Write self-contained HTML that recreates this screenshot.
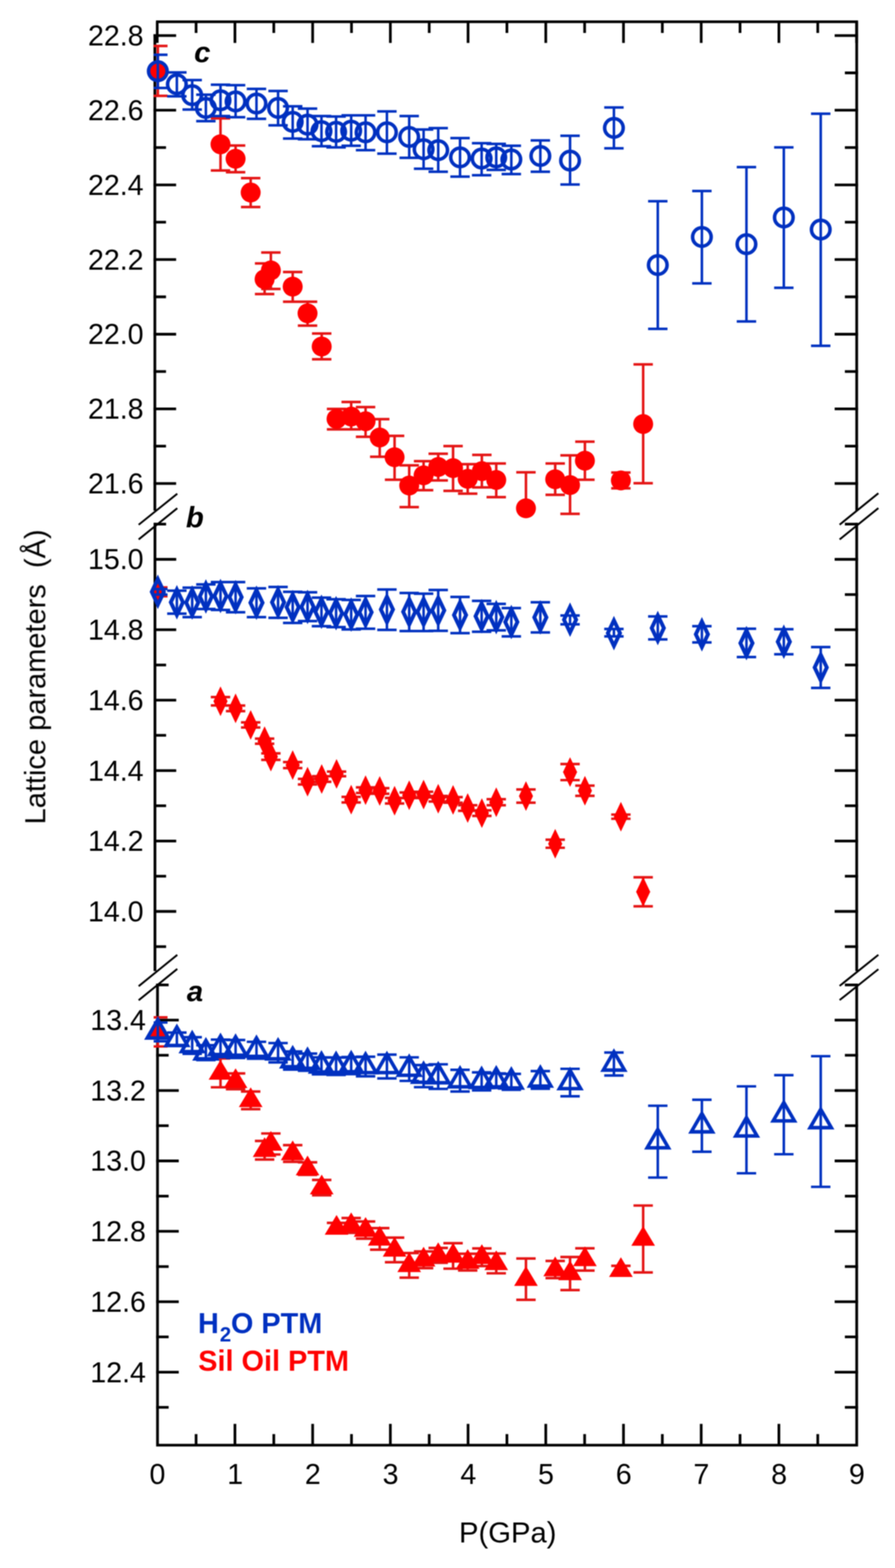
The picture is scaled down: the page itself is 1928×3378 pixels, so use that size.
<!DOCTYPE html>
<html lang="en">
<head>
<meta charset="utf-8">
<title>Lattice parameters vs pressure</title>
<style>
html,body{margin:0;padding:0;background:#fff;}
body{width:1928px;height:3378px;overflow:hidden;}
svg{display:block;}
</style>
</head>
<body>
<svg width="1928" height="3378" viewBox="0 0 1928 3378" role="img" aria-label="Lattice parameters a, b, c versus pressure">
<rect width="1928" height="3378" fill="#fff"/>
<defs><clipPath id="pc"><rect x="331" y="40" width="1520" height="3076"/></clipPath><filter id="soft" x="0" y="0" width="1928" height="3378" filterUnits="userSpaceOnUse" color-interpolation-filters="sRGB"><feGaussianBlur stdDeviation="0.9"/></filter></defs>
<g filter="url(#soft)">
<path d="M336 46.9H1848.4M336.5 3113.4H1848.4M333.6 73.8V1100M333.8 1126.4V2092M339.3 2119V3116.2M1845.5 44.1V1100.5M1845.5 1126.4V2092M1845.5 2119V3116.2" fill="none" stroke="#000" stroke-width="5.9"/>
<path d="M338.7 46.9V92.5M422.4 46.9V71M422.4 3113.4V3089.5M506.1 46.9V92.5M506.1 3113.4V3067.5M589.8 46.9V71M589.8 3113.4V3089.5M673.5 46.9V92.5M673.5 3113.4V3067.5M757.2 46.9V71M757.2 3113.4V3089.5M840.9 46.9V92.5M840.9 3113.4V3067.5M924.6 46.9V71M924.6 3113.4V3089.5M1008.3 46.9V92.5M1008.3 3113.4V3067.5M1092 46.9V71M1092 3113.4V3089.5M1175.7 46.9V92.5M1175.7 3113.4V3067.5M1259.4 46.9V71M1259.4 3113.4V3089.5M1343.1 46.9V92.5M1343.1 3113.4V3067.5M1426.8 46.9V71M1426.8 3113.4V3089.5M1510.5 46.9V92.5M1510.5 3113.4V3067.5M1594.2 46.9V71M1594.2 3113.4V3089.5M1677.9 46.9V92.5M1677.9 3113.4V3067.5M1761.6 46.9V71M1761.6 3113.4V3089.5M1845.3 46.9V92.5M330.8 76.6H379.4M1798 76.6H1848.3M330.8 237.4H379.4M1798 237.4H1848.3M330.8 398.3H379.4M1798 398.3H1848.3M330.8 559.1H379.4M1798 559.1H1848.3M330.8 720H379.4M1798 720H1848.3M330.8 880.8H379.4M1798 880.8H1848.3M330.8 1041.6H379.4M1798 1041.6H1848.3M330.8 157H357.6M1820 157H1848.3M330.8 317.9H357.6M1820 317.9H1848.3M330.8 478.7H357.6M1820 478.7H1848.3M330.8 639.5H357.6M1820 639.5H1848.3M330.8 800.4H357.6M1820 800.4H1848.3M330.8 961.2H357.6M1820 961.2H1848.3M331 1205H379.6M1798 1205H1848.3M331 1356.7H379.6M1798 1356.7H1848.3M331 1508.4H379.6M1798 1508.4H1848.3M331 1660.1H379.6M1798 1660.1H1848.3M331 1811.8H379.6M1798 1811.8H1848.3M331 1963.5H379.6M1798 1963.5H1848.3M331 1129.2H357.8M1820 1129.2H1848.3M331 1280.8H357.8M1820 1280.8H1848.3M331 1432.6H357.8M1820 1432.6H1848.3M331 1584.2H357.8M1820 1584.2H1848.3M331 1735.9H357.8M1820 1735.9H1848.3M331 1887.7H357.8M1820 1887.7H1848.3M331 2039.3H357.8M1820 2039.3H1848.3M336.5 2197.6H385.1M1798 2197.6H1848.3M336.5 2349.3H385.1M1798 2349.3H1848.3M336.5 2501H385.1M1798 2501H1848.3M336.5 2652.7H385.1M1798 2652.7H1848.3M336.5 2804.4H385.1M1798 2804.4H1848.3M336.5 2956.1H385.1M1798 2956.1H1848.3M336.5 2121.8H363.3M1820 2121.8H1848.3M336.5 2273.4H363.3M1820 2273.4H1848.3M336.5 2425.2H363.3M1820 2425.2H1848.3M336.5 2576.8H363.3M1820 2576.8H1848.3M336.5 2728.6H363.3M1820 2728.6H1848.3M336.5 2880.2H363.3M1820 2880.2H1848.3M336.5 3031.9H363.3M1820 3031.9H1848.3" fill="none" stroke="#000" stroke-width="5.8"/>
<path d="M298.7 1130.5L381.9 1063.7M298.7 1162.1L381.9 1094.8M298.7 2124.7L381.9 2057.1M298.7 2154.9L381.9 2087.4M1808.7 1130.3L1892.2 1062.7M1808.7 1162.2L1892.2 1094.7M1808.7 2124L1892.2 2057M1808.7 2154.5L1892.2 2088" fill="none" stroke="#000" stroke-width="4.1"/>
<g font-family="'Liberation Sans', Arial, Helvetica, sans-serif" font-size="63.4" fill="#000">
<text transform="translate(309.3 98) scale(0.972 1)" text-anchor="end">22.8</text>
<text transform="translate(309.3 258.8) scale(0.972 1)" text-anchor="end">22.6</text>
<text transform="translate(309.3 419.7) scale(0.972 1)" text-anchor="end">22.4</text>
<text transform="translate(309.3 580.5) scale(0.972 1)" text-anchor="end">22.2</text>
<text transform="translate(309.3 741.4) scale(0.972 1)" text-anchor="end">22.0</text>
<text transform="translate(309.3 902.2) scale(0.972 1)" text-anchor="end">21.8</text>
<text transform="translate(309.3 1063) scale(0.972 1)" text-anchor="end">21.6</text>
<text transform="translate(309.3 1226.4) scale(0.972 1)" text-anchor="end">15.0</text>
<text transform="translate(309.3 1378.1) scale(0.972 1)" text-anchor="end">14.8</text>
<text transform="translate(309.3 1529.8) scale(0.972 1)" text-anchor="end">14.6</text>
<text transform="translate(309.3 1681.5) scale(0.972 1)" text-anchor="end">14.4</text>
<text transform="translate(309.3 1833.2) scale(0.972 1)" text-anchor="end">14.2</text>
<text transform="translate(309.3 1984.9) scale(0.972 1)" text-anchor="end">14.0</text>
<text transform="translate(314.3 2219) scale(0.972 1)" text-anchor="end">13.4</text>
<text transform="translate(314.3 2370.7) scale(0.972 1)" text-anchor="end">13.2</text>
<text transform="translate(314.3 2522.4) scale(0.972 1)" text-anchor="end">13.0</text>
<text transform="translate(314.3 2674.1) scale(0.972 1)" text-anchor="end">12.8</text>
<text transform="translate(314.3 2825.8) scale(0.972 1)" text-anchor="end">12.6</text>
<text transform="translate(314.3 2977.5) scale(0.972 1)" text-anchor="end">12.4</text>
<text transform="translate(339.2 3197.4) scale(0.972 1)" text-anchor="middle">0</text>
<text transform="translate(506.6 3197.4) scale(0.972 1)" text-anchor="middle">1</text>
<text transform="translate(674 3197.4) scale(0.972 1)" text-anchor="middle">2</text>
<text transform="translate(841.4 3197.4) scale(0.972 1)" text-anchor="middle">3</text>
<text transform="translate(1008.8 3197.4) scale(0.972 1)" text-anchor="middle">4</text>
<text transform="translate(1176.2 3197.4) scale(0.972 1)" text-anchor="middle">5</text>
<text transform="translate(1343.6 3197.4) scale(0.972 1)" text-anchor="middle">6</text>
<text transform="translate(1511 3197.4) scale(0.972 1)" text-anchor="middle">7</text>
<text transform="translate(1678.4 3197.4) scale(0.972 1)" text-anchor="middle">8</text>
<text transform="translate(1845.8 3197.4) scale(0.972 1)" text-anchor="middle">9</text>
<text x="1093.8" y="3322.6" font-size="63" text-anchor="middle">P(GPa)</text>
<text transform="translate(97.4 1458.3) rotate(-90)" font-size="62.5" text-anchor="middle" xml:space="preserve">Lattice parameters  (Å)</text>
<text x="418.3" y="134.2" font-size="63" font-weight="bold" font-style="italic">c</text>
<text x="400.6" y="1136.3" font-size="63" font-weight="bold" font-style="italic">b</text>
<text x="402.4" y="2156.8" font-size="63" font-weight="bold" font-style="italic">a</text>
<text x="426.5" y="2871.8" font-weight="bold" font-size="62.2" fill="#0030c0">H<tspan font-size="44" dx="2" dy="18">2</tspan><tspan dx="-0.5" dy="-18">O PTM</tspan></text>
<text x="427" y="2952.9" font-weight="bold" font-size="62.2" fill="#ff0000">Sil Oil PTM</text>
</g>
<path clip-path="url(#pc)" d="M340 99V206.5M319.1 99H360.9M319.1 206.5H360.9M475 255V367.3M454.1 255H495.9M454.1 367.3H495.9M507.5 313.5V371M486.6 313.5H528.4M486.6 371H528.4M540 383.8V446M519.1 383.8H560.9M519.1 446H560.9M570 567.5V633.5M549.1 567.5H590.9M549.1 633.5H590.9M583.5 544V622.5M562.6 544H604.4M562.6 622.5H604.4M630.5 586V650M609.6 586H651.4M609.6 650H651.4M662.5 650V701.5M641.6 650H683.4M641.6 701.5H683.4M693 718.5V774M672.1 718.5H713.9M672.1 774H713.9M725 881V925M704.1 881H745.9M704.1 925H745.9M756.5 866V925M735.6 866H777.4M735.6 925H777.4M787.5 877V941M766.6 877H808.4M766.6 941H808.4M818 903V984M797.1 903H838.9M797.1 984H838.9M850 939V1033.5M829.1 939H870.9M829.1 1033.5H870.9M881.5 1002.5V1092.5M860.6 1002.5H902.4M860.6 1092.5H902.4M912.5 993.5V1056M891.6 993.5H933.4M891.6 1056H933.4M944 977.5V1035M923.1 977.5H964.9M923.1 1035H964.9M976 961V1057.5M955.1 961H996.9M955.1 1057.5H996.9M1007.5 1000V1063.5M986.6 1000H1028.4M986.6 1063.5H1028.4M1038 980V1050M1017.1 980H1058.9M1017.1 1050H1058.9M1069 998.5V1071M1048.1 998.5H1089.9M1048.1 1071H1089.9M1133 1017.5V1095M1112.1 1017.5H1153.9M1196 998.5V1066M1175.1 998.5H1216.9M1175.1 1066H1216.9M1228 981V1107M1207.1 981H1248.9M1207.1 1107H1248.9M1260 951.5V1033.5M1239.1 951.5H1280.9M1239.1 1033.5H1280.9M1337.5 1018V1052M1316.6 1018H1358.4M1316.6 1052H1358.4M1385.5 785V1041M1364.6 785H1406.4M1364.6 1041H1406.4M340 1265.5V1284.5M319.1 1265.5H360.9M319.1 1284.5H360.9M475 1501.7V1519.7M454.1 1501.7H495.9M454.1 1519.7H495.9M507.5 1520V1532M486.6 1520H528.4M486.6 1532H528.4M540 1556.2V1567.2M519.1 1556.2H560.9M519.1 1567.2H560.9M570 1591.2V1602.2M549.1 1591.2H590.9M549.1 1602.2H590.9M583.5 1623V1637M562.6 1623H604.4M562.6 1637H604.4M630.5 1641.8V1654.8M609.6 1641.8H651.4M609.6 1654.8H651.4M662.5 1678V1690M641.6 1678H683.4M641.6 1690H683.4M693 1672.3V1684.3M672.1 1672.3H713.9M672.1 1684.3H713.9M725 1662.3V1672.3M704.1 1662.3H745.9M704.1 1672.3H745.9M756.5 1716.7V1728.7M735.6 1716.7H777.4M735.6 1728.7H777.4M787.5 1696.3V1708.3M766.6 1696.3H808.4M766.6 1708.3H808.4M818 1698V1710M797.1 1698H838.9M797.1 1710H838.9M850 1719V1731M829.1 1719H870.9M829.1 1731H870.9M881.5 1707.3V1719.3M860.6 1707.3H902.4M860.6 1719.3H902.4M912.5 1705.7V1717.7M891.6 1705.7H933.4M891.6 1717.7H933.4M944 1714.7V1726.7M923.1 1714.7H964.9M923.1 1726.7H964.9M976 1717.3V1729.3M955.1 1717.3H996.9M955.1 1729.3H996.9M1007.5 1734.7V1746.7M986.6 1734.7H1028.4M986.6 1746.7H1028.4M1038 1745.7V1757.7M1017.1 1745.7H1058.9M1017.1 1757.7H1058.9M1069 1721.8V1734.8M1048.1 1721.8H1089.9M1048.1 1734.8H1089.9M1133 1700.7V1729.3M1112.1 1700.7H1153.9M1112.1 1729.3H1153.9M1196 1809V1826.4M1175.1 1809H1216.9M1175.1 1826.4H1216.9M1228 1646V1680.6M1207.1 1646H1248.9M1207.1 1680.6H1248.9M1260 1692.5V1714.5M1239.1 1692.5H1280.9M1239.1 1714.5H1280.9M1337.5 1754.9V1763.9M1316.6 1754.9H1358.4M1316.6 1763.9H1358.4M1385.5 1890V1952.5M1364.6 1890H1406.4M1364.6 1952.5H1406.4M340 2191.8V2254.4M319.1 2191.8H360.9M319.1 2254.4H360.9M475 2280.4V2342.4M454.1 2280.4H495.9M454.1 2342.4H495.9M507.5 2312.5V2346.5M486.6 2312.5H528.4M486.6 2346.5H528.4M540 2351.5V2389.5M519.1 2351.5H560.9M519.1 2389.5H560.9M570 2458V2498M549.1 2458H590.9M549.1 2498H590.9M583.5 2441.9V2487.1M562.6 2441.9H604.4M562.6 2487.1H604.4M630.5 2467V2503M609.6 2467H651.4M609.6 2503H651.4M662.5 2504V2531M641.6 2504H683.4M641.6 2531H683.4M693 2542V2575M672.1 2542H713.9M672.1 2575H713.9M725 2634.5V2656.5M704.1 2634.5H745.9M704.1 2656.5H745.9M756.5 2624V2656M735.6 2624H777.4M735.6 2656H777.4M787.5 2631.5V2668.5M766.6 2631.5H808.4M766.6 2668.5H808.4M818 2645.8V2692.2M797.1 2645.8H838.9M797.1 2692.2H838.9M850 2666.2V2719.2M829.1 2666.2H870.9M829.1 2719.2H870.9M881.5 2699.5V2752.5M860.6 2699.5H902.4M860.6 2752.5H902.4M912.5 2696V2732M891.6 2696H933.4M891.6 2732H933.4M944 2688.5V2720.5M923.1 2688.5H964.9M923.1 2720.5H964.9M976 2678.3V2733.1M955.1 2678.3H996.9M955.1 2733.1H996.9M1007.5 2701V2737M986.6 2701H1028.4M986.6 2737H1028.4M1038 2689.5V2727.5M1017.1 2689.5H1058.9M1017.1 2727.5H1058.9M1069 2700.5V2743.1M1048.1 2700.5H1089.9M1048.1 2743.1H1089.9M1133 2711.2V2800.2M1112.1 2711.2H1153.9M1112.1 2800.2H1153.9M1196 2716.5V2753.5M1175.1 2716.5H1216.9M1175.1 2753.5H1216.9M1228 2708V2779.2M1207.1 2708H1248.9M1207.1 2779.2H1248.9M1260 2689.3V2737.3M1239.1 2689.3H1280.9M1239.1 2737.3H1280.9M1337.5 2727V2746M1316.6 2727H1358.4M1316.6 2746H1358.4M1385.5 2597.1V2741.3M1364.6 2597.1H1406.4M1364.6 2741.3H1406.4" fill="none" stroke="#e41414" stroke-width="5.4"/>
<g fill="#ff0000">
<circle cx="340" cy="153.3" r="21.5"/>
<circle cx="475" cy="310.8" r="21.5"/>
<circle cx="507.5" cy="342" r="21.5"/>
<circle cx="540" cy="414.7" r="21.5"/>
<circle cx="570" cy="601.5" r="21.5"/>
<circle cx="583.5" cy="582.5" r="21.5"/>
<circle cx="630.5" cy="617.5" r="21.5"/>
<circle cx="662.5" cy="675" r="21.5"/>
<circle cx="693" cy="746.5" r="21.5"/>
<circle cx="725" cy="902.5" r="21.5"/>
<circle cx="756.5" cy="897.5" r="21.5"/>
<circle cx="787.5" cy="907.5" r="21.5"/>
<circle cx="818" cy="942.5" r="21.5"/>
<circle cx="850" cy="985" r="21.5"/>
<circle cx="881.5" cy="1046" r="21.5"/>
<circle cx="912.5" cy="1024" r="21.5"/>
<circle cx="944" cy="1006" r="21.5"/>
<circle cx="976" cy="1008.5" r="21.5"/>
<circle cx="1007.5" cy="1031.5" r="21.5"/>
<circle cx="1038" cy="1015" r="21.5"/>
<circle cx="1069" cy="1034" r="21.5"/>
<circle cx="1133" cy="1095" r="21.5"/>
<circle cx="1196" cy="1032.5" r="21.5"/>
<circle cx="1228" cy="1045" r="21.5"/>
<circle cx="1260" cy="992.5" r="21.5"/>
<circle cx="1337.5" cy="1035" r="21.5"/>
<circle cx="1385.5" cy="913.5" r="21.5"/>
<polygon points="340,1243 355.2,1275 340,1307 324.8,1275"/>
<polygon points="475,1478.7 490.2,1510.7 475,1542.7 459.8,1510.7"/>
<polygon points="507.5,1494 522.7,1526 507.5,1558 492.3,1526"/>
<polygon points="540,1529.7 555.2,1561.7 540,1593.7 524.8,1561.7"/>
<polygon points="570,1564.7 585.2,1596.7 570,1628.7 554.8,1596.7"/>
<polygon points="583.5,1598 598.7,1630 583.5,1662 568.3,1630"/>
<polygon points="630.5,1616.3 645.7,1648.3 630.5,1680.3 615.3,1648.3"/>
<polygon points="662.5,1652 677.7,1684 662.5,1716 647.3,1684"/>
<polygon points="693,1646.3 708.2,1678.3 693,1710.3 677.8,1678.3"/>
<polygon points="725,1635.3 740.2,1667.3 725,1699.3 709.8,1667.3"/>
<polygon points="756.5,1690.7 771.7,1722.7 756.5,1754.7 741.3,1722.7"/>
<polygon points="787.5,1670.3 802.7,1702.3 787.5,1734.3 772.3,1702.3"/>
<polygon points="818,1672 833.2,1704 818,1736 802.8,1704"/>
<polygon points="850,1693 865.2,1725 850,1757 834.8,1725"/>
<polygon points="881.5,1681.3 896.7,1713.3 881.5,1745.3 866.3,1713.3"/>
<polygon points="912.5,1679.7 927.7,1711.7 912.5,1743.7 897.3,1711.7"/>
<polygon points="944,1688.7 959.2,1720.7 944,1752.7 928.8,1720.7"/>
<polygon points="976,1691.3 991.2,1723.3 976,1755.3 960.8,1723.3"/>
<polygon points="1007.5,1708.7 1022.7,1740.7 1007.5,1772.7 992.3,1740.7"/>
<polygon points="1038,1719.7 1053.2,1751.7 1038,1783.7 1022.8,1751.7"/>
<polygon points="1069,1696.3 1084.2,1728.3 1069,1760.3 1053.8,1728.3"/>
<polygon points="1133,1683 1148.2,1715 1133,1747 1117.8,1715"/>
<polygon points="1196,1785.7 1211.2,1817.7 1196,1849.7 1180.8,1817.7"/>
<polygon points="1228,1631.3 1243.2,1663.3 1228,1695.3 1212.8,1663.3"/>
<polygon points="1260,1671.5 1275.2,1703.5 1260,1735.5 1244.8,1703.5"/>
<polygon points="1337.5,1727.4 1352.7,1759.4 1337.5,1791.4 1322.3,1759.4"/>
<polygon points="1385.5,1889.2 1400.7,1921.2 1385.5,1953.2 1370.3,1921.2"/>
<polygon points="340,2195.1 365.5,2237.6 314.5,2237.6"/>
<polygon points="475,2283.4 500.5,2325.9 449.5,2325.9"/>
<polygon points="507.5,2301.5 533,2344 482,2344"/>
<polygon points="540,2342.5 565.5,2385 514.5,2385"/>
<polygon points="570,2450 595.5,2492.5 544.5,2492.5"/>
<polygon points="583.5,2436.5 609,2479 558,2479"/>
<polygon points="630.5,2457 656,2499.5 605,2499.5"/>
<polygon points="662.5,2489.5 688,2532 637,2532"/>
<polygon points="693,2530.5 718.5,2573 667.5,2573"/>
<polygon points="725,2617.5 750.5,2660 699.5,2660"/>
<polygon points="756.5,2612 782,2654.5 731,2654.5"/>
<polygon points="787.5,2622 813,2664.5 762,2664.5"/>
<polygon points="818,2641 843.5,2683.5 792.5,2683.5"/>
<polygon points="850,2664.7 875.5,2707.2 824.5,2707.2"/>
<polygon points="881.5,2698 907,2740.5 856,2740.5"/>
<polygon points="912.5,2686 938,2728.5 887,2728.5"/>
<polygon points="944,2676.5 969.5,2719 918.5,2719"/>
<polygon points="976,2677.7 1001.5,2720.2 950.5,2720.2"/>
<polygon points="1007.5,2691 1033,2733.5 982,2733.5"/>
<polygon points="1038,2680.5 1063.5,2723 1012.5,2723"/>
<polygon points="1069,2693.8 1094.5,2736.3 1043.5,2736.3"/>
<polygon points="1133,2727.7 1158.5,2770.2 1107.5,2770.2"/>
<polygon points="1196,2707 1221.5,2749.5 1170.5,2749.5"/>
<polygon points="1228,2715.6 1253.5,2758.1 1202.5,2758.1"/>
<polygon points="1260,2685.3 1285.5,2727.8 1234.5,2727.8"/>
<polygon points="1337.5,2708.5 1363,2751 1312,2751"/>
<polygon points="1385.5,2641.2 1411,2683.7 1360,2683.7"/>
</g>
<path clip-path="url(#pc)" d="M340 118V189.5M319.1 118H360.9M319.1 189.5H360.9M381 156V207.5M360.1 156H401.9M360.1 207.5H401.9M414 172.5V236M393.1 172.5H434.9M393.1 236H434.9M443.5 204V261M422.6 204H464.4M422.6 261H464.4M475 182.5V250M454.1 182.5H495.9M454.1 250H495.9M507.5 183.5V252.5M486.6 183.5H528.4M486.6 252.5H528.4M552.5 191.5V256M531.6 191.5H573.4M531.6 256H573.4M599 196V270M578.1 196H619.9M578.1 270H619.9M630.5 229V298.5M609.6 229H651.4M609.6 298.5H651.4M662.5 234V300M641.6 234H683.4M641.6 300H683.4M692.5 250V315M671.6 250H713.4M671.6 315H713.4M724 251V317.5M703.1 251H744.9M703.1 317.5H744.9M756.5 248.5V314M735.6 248.5H777.4M735.6 314H777.4M787.5 248.5V323.5M766.6 248.5H808.4M766.6 323.5H808.4M833.5 240V331M812.6 240H854.4M812.6 331H854.4M881.5 250V340M860.6 250H902.4M860.6 340H902.4M912.5 279V363.5M891.6 279H933.4M891.6 363.5H933.4M944 276V370M923.1 276H964.9M923.1 370H964.9M991 297.5V380.5M970.1 297.5H1011.9M970.1 380.5H1011.9M1037.5 308.5V377.5M1016.6 308.5H1058.4M1016.6 377.5H1058.4M1069 310V366M1048.1 310H1089.9M1048.1 366H1089.9M1101.5 314V375M1080.6 314H1122.4M1080.6 375H1122.4M1164 302.5V370M1143.1 302.5H1184.9M1143.1 370H1184.9M1228 292.5V397.5M1207.1 292.5H1248.9M1207.1 397.5H1248.9M1322.5 231.5V319.5M1301.6 231.5H1343.4M1301.6 319.5H1343.4M1417 433.5V708.5M1396.1 433.5H1437.9M1396.1 708.5H1437.9M1512 411.5V610.5M1491.1 411.5H1532.9M1491.1 610.5H1532.9M1608 360V692.5M1587.1 360H1628.9M1587.1 692.5H1628.9M1688.5 317.5V620M1667.6 317.5H1709.4M1667.6 620H1709.4M1768 245V745M1747.1 245H1788.9M1747.1 745H1788.9M340 1269V1281M319.1 1269H360.9M319.1 1281H360.9M381 1272.5V1322M360.1 1272.5H401.9M360.1 1322H401.9M414 1266V1329.5M393.1 1266H434.9M393.1 1329.5H434.9M443.5 1259V1312M422.6 1259H464.4M422.6 1312H464.4M475 1254V1314M454.1 1254H495.9M454.1 1314H495.9M507.5 1254V1319M486.6 1254H528.4M486.6 1319H528.4M552.5 1267.5V1329.5M531.6 1267.5H573.4M531.6 1329.5H573.4M599 1264.5V1331M578.1 1264.5H619.9M578.1 1331H619.9M630.5 1275V1342M609.6 1275H651.4M609.6 1342H651.4M662.5 1276V1338M641.6 1276H683.4M641.6 1338H683.4M692.5 1287.5V1349M671.6 1287.5H713.4M671.6 1349H713.4M724 1291V1351M703.1 1291H744.9M703.1 1351H744.9M756.5 1292.5V1356M735.6 1292.5H777.4M735.6 1356H777.4M787.5 1284V1354.5M766.6 1284H808.4M766.6 1354.5H808.4M833.5 1270V1357M812.6 1270H854.4M812.6 1357H854.4M881.5 1277.5V1359.5M860.6 1277.5H902.4M860.6 1359.5H902.4M912.5 1279V1359.5M891.6 1279H933.4M891.6 1359.5H933.4M944 1271V1359M923.1 1271H964.9M923.1 1359H964.9M991 1286V1364M970.1 1286H1011.9M970.1 1364H1011.9M1037.5 1294.5V1361M1016.6 1294.5H1058.4M1016.6 1361H1058.4M1069 1301V1358M1048.1 1301H1089.9M1048.1 1358H1089.9M1101.5 1310V1371M1080.6 1310H1122.4M1080.6 1371H1122.4M1164 1297.5V1362.5M1143.1 1297.5H1184.9M1143.1 1362.5H1184.9M1228 1326V1345M1207.1 1326H1248.9M1207.1 1345H1248.9M1322.5 1355V1371M1301.6 1355H1343.4M1301.6 1371H1343.4M1417 1328V1377.5M1396.1 1328H1437.9M1396.1 1377.5H1437.9M1512 1349V1384M1491.1 1349H1532.9M1491.1 1384H1532.9M1608 1354.5V1415.5M1587.1 1354.5H1628.9M1587.1 1415.5H1628.9M1688.5 1355.5V1409.5M1667.6 1355.5H1709.4M1667.6 1409.5H1709.4M1768 1394V1482M1747.1 1394H1788.9M1747.1 1482H1788.9M340 2202.9V2243.2M319.1 2202.9H360.9M319.1 2243.2H360.9M381 2224.5V2253.5M360.1 2224.5H401.9M360.1 2253.5H401.9M414 2234.5V2270.2M393.1 2234.5H434.9M393.1 2270.2H434.9M443.5 2251.8V2283.9M422.6 2251.8H464.4M422.6 2283.9H464.4M475 2239.6V2277.6M454.1 2239.6H495.9M454.1 2277.6H495.9M507.5 2240.5V2279.4M486.6 2240.5H528.4M486.6 2279.4H528.4M552.5 2244.4V2280.7M531.6 2244.4H573.4M531.6 2280.7H573.4M599 2247.1V2288.7M578.1 2247.1H619.9M578.1 2288.7H619.9M630.5 2265.3V2304.4M609.6 2265.3H651.4M609.6 2304.4H651.4M662.5 2269.7V2306.9M641.6 2269.7H683.4M641.6 2306.9H683.4M692.5 2277.9V2314.5M671.6 2277.9H713.4M671.6 2314.5H713.4M724 2278.3V2315.8M703.1 2278.3H744.9M703.1 2315.8H744.9M756.5 2277.2V2314.1M735.6 2277.2H777.4M735.6 2314.1H777.4M787.5 2276.5V2318.7M766.6 2276.5H808.4M766.6 2318.7H808.4M833.5 2272V2323.2M812.6 2272H854.4M812.6 2323.2H854.4M881.5 2277.9V2328.6M860.6 2277.9H902.4M860.6 2328.6H902.4M912.5 2294.5V2342.1M891.6 2294.5H933.4M891.6 2342.1H933.4M944 2292.9V2345.9M923.1 2292.9H964.9M923.1 2345.9H964.9M991 2304.8V2351.5M970.1 2304.8H1011.9M970.1 2351.5H1011.9M1037.5 2310.2V2349M1016.6 2310.2H1058.4M1016.6 2349H1058.4M1069 2312.4V2343.9M1048.1 2312.4H1089.9M1048.1 2343.9H1089.9M1101.5 2313.5V2347.9M1080.6 2313.5H1122.4M1080.6 2347.9H1122.4M1164 2307.5V2345.5M1143.1 2307.5H1184.9M1143.1 2345.5H1184.9M1228 2302.6V2361.7M1207.1 2302.6H1248.9M1207.1 2361.7H1248.9M1322.5 2267.5V2317M1301.6 2267.5H1343.4M1301.6 2317H1343.4M1417 2382.1V2536.9M1396.1 2382.1H1437.9M1396.1 2536.9H1437.9M1512 2369.2V2481.3M1491.1 2369.2H1532.9M1491.1 2481.3H1532.9M1608 2340.4V2527.6M1587.1 2340.4H1628.9M1587.1 2527.6H1628.9M1688.5 2316.3V2486.6M1667.6 2316.3H1709.4M1667.6 2486.6H1709.4M1768 2275.4V2556.9M1747.1 2275.4H1788.9M1747.1 2556.9H1788.9" fill="none" stroke="#0030c0" stroke-width="5.4"/>
<g fill="none" stroke="#0030c0" stroke-width="7.6" stroke-linejoin="miter" stroke-miterlimit="10">
<circle cx="340" cy="153.3" r="20"/>
<circle cx="381" cy="181.5" r="20"/>
<circle cx="414" cy="205" r="20"/>
<circle cx="443.5" cy="232.5" r="20"/>
<circle cx="475" cy="216" r="20"/>
<circle cx="507.5" cy="218.5" r="20"/>
<circle cx="552.5" cy="223" r="20"/>
<circle cx="599" cy="232.5" r="20"/>
<circle cx="630.5" cy="262.5" r="20"/>
<circle cx="662.5" cy="268.5" r="20"/>
<circle cx="692.5" cy="282.5" r="20"/>
<circle cx="724" cy="284" r="20"/>
<circle cx="756.5" cy="281.5" r="20"/>
<circle cx="787.5" cy="285" r="20"/>
<circle cx="833.5" cy="285" r="20"/>
<circle cx="881.5" cy="295" r="20"/>
<circle cx="912.5" cy="321.5" r="20"/>
<circle cx="944" cy="323.5" r="20"/>
<circle cx="991" cy="339" r="20"/>
<circle cx="1037.5" cy="341.5" r="20"/>
<circle cx="1069" cy="339" r="20"/>
<circle cx="1101.5" cy="343.5" r="20"/>
<circle cx="1164" cy="336" r="20"/>
<circle cx="1228" cy="346" r="20"/>
<circle cx="1322.5" cy="275.5" r="20"/>
<circle cx="1417" cy="571" r="20"/>
<circle cx="1512" cy="510.5" r="20"/>
<circle cx="1608" cy="526" r="20"/>
<circle cx="1688.5" cy="468.5" r="20"/>
<circle cx="1768" cy="494.5" r="20"/>
<polygon stroke-width="8.3" points="340,1247.5 353.1,1275 340,1302.5 326.9,1275"/>
<polygon stroke-width="8.3" points="381,1270 394.1,1297.5 381,1325 367.9,1297.5"/>
<polygon stroke-width="8.3" points="414,1270.5 427.1,1298 414,1325.5 400.9,1298"/>
<polygon stroke-width="8.3" points="443.5,1257.5 456.6,1285 443.5,1312.5 430.4,1285"/>
<polygon stroke-width="8.3" points="475,1256.5 488.1,1284 475,1311.5 461.9,1284"/>
<polygon stroke-width="8.3" points="507.5,1259 520.6,1286.5 507.5,1314 494.4,1286.5"/>
<polygon stroke-width="8.3" points="552.5,1271 565.6,1298.5 552.5,1326 539.4,1298.5"/>
<polygon stroke-width="8.3" points="599,1270 612.1,1297.5 599,1325 585.9,1297.5"/>
<polygon stroke-width="8.3" points="630.5,1280.5 643.6,1308 630.5,1335.5 617.4,1308"/>
<polygon stroke-width="8.3" points="662.5,1280 675.6,1307.5 662.5,1335 649.4,1307.5"/>
<polygon stroke-width="8.3" points="692.5,1290.5 705.6,1318 692.5,1345.5 679.4,1318"/>
<polygon stroke-width="8.3" points="724,1293.5 737.1,1321 724,1348.5 710.9,1321"/>
<polygon stroke-width="8.3" points="756.5,1296.5 769.6,1324 756.5,1351.5 743.4,1324"/>
<polygon stroke-width="8.3" points="787.5,1291.5 800.6,1319 787.5,1346.5 774.4,1319"/>
<polygon stroke-width="8.3" points="833.5,1285.5 846.6,1313 833.5,1340.5 820.4,1313"/>
<polygon stroke-width="8.3" points="881.5,1290.5 894.6,1318 881.5,1345.5 868.4,1318"/>
<polygon stroke-width="8.3" points="912.5,1290.5 925.6,1318 912.5,1345.5 899.4,1318"/>
<polygon stroke-width="8.3" points="944,1287.5 957.1,1315 944,1342.5 930.9,1315"/>
<polygon stroke-width="8.3" points="991,1297.5 1004.1,1325 991,1352.5 977.9,1325"/>
<polygon stroke-width="8.3" points="1037.5,1300 1050.6,1327.5 1037.5,1355 1024.4,1327.5"/>
<polygon stroke-width="8.3" points="1069,1302 1082.1,1329.5 1069,1357 1055.9,1329.5"/>
<polygon stroke-width="8.3" points="1101.5,1312.5 1114.6,1340 1101.5,1367.5 1088.4,1340"/>
<polygon stroke-width="8.3" points="1164,1302.5 1177.1,1330 1164,1357.5 1150.9,1330"/>
<polygon stroke-width="8.3" points="1228,1307.5 1241.1,1335 1228,1362.5 1214.9,1335"/>
<polygon stroke-width="8.3" points="1322.5,1336.5 1335.6,1364 1322.5,1391.5 1309.4,1364"/>
<polygon stroke-width="8.3" points="1417,1325.5 1430.1,1353 1417,1380.5 1403.9,1353"/>
<polygon stroke-width="8.3" points="1512,1339 1525.1,1366.5 1512,1394 1498.9,1366.5"/>
<polygon stroke-width="8.3" points="1608,1358 1621.1,1385.5 1608,1413 1594.9,1385.5"/>
<polygon stroke-width="8.3" points="1688.5,1355 1701.6,1382.5 1688.5,1410 1675.4,1382.5"/>
<polygon stroke-width="8.3" points="1768,1410.5 1781.1,1438 1768,1465.5 1754.9,1438"/>
<polygon points="340,2196.7 362.9,2236.3 317.1,2236.3"/>
<polygon points="381,2212.6 403.9,2252.2 358.1,2252.2"/>
<polygon points="414,2225.9 436.9,2265.5 391.1,2265.5"/>
<polygon points="443.5,2241.5 466.4,2281.1 420.6,2281.1"/>
<polygon points="475,2232.2 497.9,2271.8 452.1,2271.8"/>
<polygon points="507.5,2233.6 530.4,2273.2 484.6,2273.2"/>
<polygon points="552.5,2236.1 575.4,2275.7 529.6,2275.7"/>
<polygon points="599,2241.5 621.9,2281.1 576.1,2281.1"/>
<polygon points="630.5,2258.5 653.4,2298.1 607.6,2298.1"/>
<polygon points="662.5,2261.9 685.4,2301.5 639.6,2301.5"/>
<polygon points="692.5,2269.8 715.4,2309.4 669.6,2309.4"/>
<polygon points="724,2270.6 746.9,2310.2 701.1,2310.2"/>
<polygon points="756.5,2269.2 779.4,2308.8 733.6,2308.8"/>
<polygon points="787.5,2271.2 810.4,2310.8 764.6,2310.8"/>
<polygon points="833.5,2271.2 856.4,2310.8 810.6,2310.8"/>
<polygon points="881.5,2276.9 904.4,2316.5 858.6,2316.5"/>
<polygon points="912.5,2291.9 935.4,2331.5 889.6,2331.5"/>
<polygon points="944,2293 966.9,2332.6 921.1,2332.6"/>
<polygon points="991,2301.8 1013.9,2341.4 968.1,2341.4"/>
<polygon points="1037.5,2303.2 1060.4,2342.8 1014.6,2342.8"/>
<polygon points="1069,2301.8 1091.9,2341.4 1046.1,2341.4"/>
<polygon points="1101.5,2304.3 1124.4,2343.9 1078.6,2343.9"/>
<polygon points="1164,2300.1 1186.9,2339.7 1141.1,2339.7"/>
<polygon points="1228,2305.7 1250.9,2345.3 1205.1,2345.3"/>
<polygon points="1322.5,2265.8 1345.4,2305.4 1299.6,2305.4"/>
<polygon points="1417,2433.1 1439.9,2472.7 1394.1,2472.7"/>
<polygon points="1512,2398.8 1534.9,2438.4 1489.1,2438.4"/>
<polygon points="1608,2407.6 1630.9,2447.2 1585.1,2447.2"/>
<polygon points="1688.5,2375.1 1711.4,2414.7 1665.6,2414.7"/>
<polygon points="1768,2389.8 1790.9,2429.4 1745.1,2429.4"/>
</g>
</g>
</svg>
</body>
</html>
